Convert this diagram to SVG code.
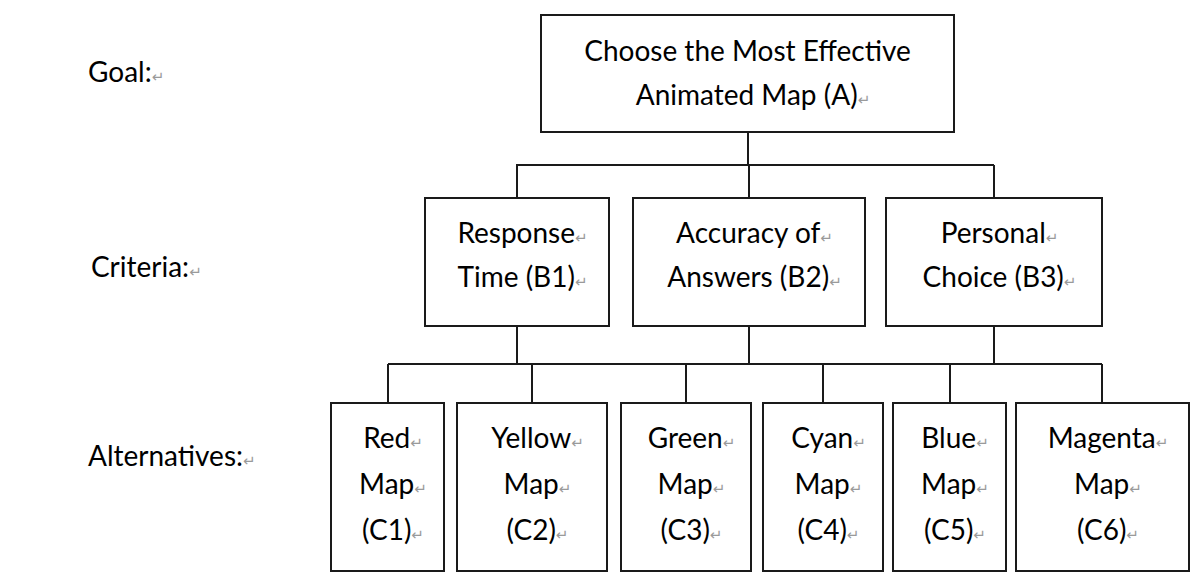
<svg xmlns="http://www.w3.org/2000/svg" width="1198" height="572" viewBox="0 0 1198 572">
<style>
.box{fill:#fff;stroke:#1a1a1a;stroke-width:2}
.lbl{font-family:Lato,"Open Sans","Liberation Sans",sans-serif;font-size:28px;fill:#000}
.mk{font-family:"DejaVu Sans",sans-serif;font-size:15px;fill:#9a9a9a}
.con{fill:none;stroke:#1a1a1a;stroke-width:2}
</style>
<rect width="1198" height="572" fill="#fff"/>
<g id="connectors">
<path class="con" d="M748,132V165M516,165H994M517,165V198M749,165V198M994,165V198"/>
<path class="con" d="M517,326V364M749,326V364M994,326V364M388,364H1102M388,364V403M532,364V403M686,364V403M823,364V403M950,364V403M1102,364V403"/>
</g>
<g id="level-labels">
<text class="lbl" x="88" y="82">Goal:<tspan class="mk">↵</tspan></text>
<text class="lbl" x="91" y="277">Criteria:<tspan class="mk">↵</tspan></text>
<text class="lbl" x="88" y="466">Alternatives:<tspan class="mk">↵</tspan></text>
</g>
<g id="A">
<rect class="box" x="541" y="15" width="413" height="117"/>
<text class="lbl" x="747.5" y="61" text-anchor="middle">Choose the Most Effective</text>
<text class="lbl" x="753" y="105" text-anchor="middle">Animated Map (A)<tspan class="mk">↵</tspan></text>
</g>
<g id="B1">
<rect class="box" x="425" y="198" width="184" height="128"/>
<text class="lbl" x="522.5" y="243" text-anchor="middle">Response<tspan class="mk">↵</tspan></text>
<text class="lbl" x="522.5" y="287" text-anchor="middle">Time (B1)<tspan class="mk">↵</tspan></text>
</g>
<g id="B2">
<rect class="box" x="633" y="198" width="232" height="128"/>
<text class="lbl" x="754.5" y="243" text-anchor="middle">Accuracy of<tspan class="mk">↵</tspan></text>
<text class="lbl" x="754.5" y="287" text-anchor="middle">Answers (B2)<tspan class="mk">↵</tspan></text>
</g>
<g id="B3">
<rect class="box" x="886" y="198" width="216" height="128"/>
<text class="lbl" x="999.5" y="243" text-anchor="middle">Personal<tspan class="mk">↵</tspan></text>
<text class="lbl" x="999.5" y="287" text-anchor="middle">Choice (B3)<tspan class="mk">↵</tspan></text>
</g>
<g id="C1">
<rect class="box" x="331" y="403" width="113" height="168"/>
<text class="lbl" x="393" y="448" text-anchor="middle">Red<tspan class="mk">↵</tspan></text>
<text class="lbl" x="393" y="494" text-anchor="middle">Map<tspan class="mk">↵</tspan></text>
<text class="lbl" x="393" y="540" text-anchor="middle">(C1)<tspan class="mk">↵</tspan></text>
</g>
<g id="C2">
<rect class="box" x="457" y="403" width="150" height="168"/>
<text class="lbl" x="537.5" y="448" text-anchor="middle">Yellow<tspan class="mk">↵</tspan></text>
<text class="lbl" x="537.5" y="494" text-anchor="middle">Map<tspan class="mk">↵</tspan></text>
<text class="lbl" x="537.5" y="540" text-anchor="middle">(C2)<tspan class="mk">↵</tspan></text>
</g>
<g id="C3">
<rect class="box" x="621" y="403" width="130" height="168"/>
<text class="lbl" x="691.5" y="448" text-anchor="middle">Green<tspan class="mk">↵</tspan></text>
<text class="lbl" x="691.5" y="494" text-anchor="middle">Map<tspan class="mk">↵</tspan></text>
<text class="lbl" x="691.5" y="540" text-anchor="middle">(C3)<tspan class="mk">↵</tspan></text>
</g>
<g id="C4">
<rect class="box" x="763" y="403" width="120" height="168"/>
<text class="lbl" x="828.5" y="448" text-anchor="middle">Cyan<tspan class="mk">↵</tspan></text>
<text class="lbl" x="828.5" y="494" text-anchor="middle">Map<tspan class="mk">↵</tspan></text>
<text class="lbl" x="828.5" y="540" text-anchor="middle">(C4)<tspan class="mk">↵</tspan></text>
</g>
<g id="C5">
<rect class="box" x="893" y="403" width="113" height="168"/>
<text class="lbl" x="955" y="448" text-anchor="middle">Blue<tspan class="mk">↵</tspan></text>
<text class="lbl" x="955" y="494" text-anchor="middle">Map<tspan class="mk">↵</tspan></text>
<text class="lbl" x="955" y="540" text-anchor="middle">(C5)<tspan class="mk">↵</tspan></text>
</g>
<g id="C6">
<rect class="box" x="1016" y="403" width="173" height="168"/>
<text class="lbl" x="1108" y="448" text-anchor="middle">Magenta<tspan class="mk">↵</tspan></text>
<text class="lbl" x="1108" y="494" text-anchor="middle">Map<tspan class="mk">↵</tspan></text>
<text class="lbl" x="1108" y="540" text-anchor="middle">(C6)<tspan class="mk">↵</tspan></text>
</g>
</svg>
